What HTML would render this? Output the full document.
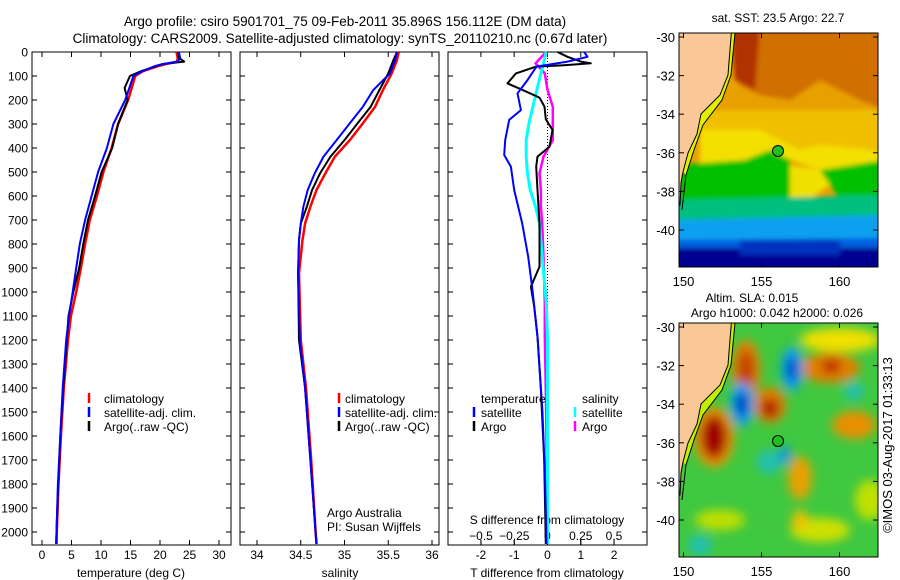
<!DOCTYPE html>
<html><head><meta charset="utf-8"><style>
body{margin:0;background:#fff;width:900px;height:580px;overflow:hidden}
svg{display:block;font-family:"Liberation Sans",sans-serif}
text{fill:#000}
</style></head><body>
<svg id="fig" width="900" height="580" viewBox="0 0 900 580">
<defs>
<filter id="bl" x="-20%" y="-20%" width="140%" height="140%"><feGaussianBlur stdDeviation="5"/></filter>
<filter id="bl2" x="-20%" y="-20%" width="140%" height="140%"><feGaussianBlur stdDeviation="2.5"/></filter>
<clipPath id="c1"><rect x="679" y="33" width="199" height="234"/></clipPath>
<clipPath id="c2"><rect x="679" y="323" width="199" height="234"/></clipPath>
</defs>
<text x="345" y="26" font-size="13.5" text-anchor="middle">Argo profile: csiro 5901701_75 09-Feb-2011 35.896S 156.112E (DM data)</text>
<text x="340" y="43" font-size="13.5" text-anchor="middle">Climatology: CARS2009. Satellite-adjusted climatology: synTS_20110210.nc (0.67d later)</text>
<g id="panels"></g>

<!-- SST map -->
<g>
<text x="778" y="22" font-size="12" text-anchor="middle">sat. SST: 23.5 Argo: 22.7</text>
<g clip-path="url(#c1)">
<rect x="679" y="33" width="199" height="234" fill="#e8a000"/>
<g filter="url(#bl2)">
<polygon points="730,25 885,25 885,110 860,100 820,80 790,100 760,95 740,85" fill="#d07000"/>
<polygon points="730,25 760,25 755,90 735,80" fill="#b03000"/>
<polygon points="700,110 885,110 885,170 830,165 800,160 770,150 740,160 700,165" fill="#f0c000"/>
<polygon points="700,130 760,130 780,140 800,150 820,145 870,150 885,155 885,165 820,170 790,160 760,160 700,170" fill="#f4e000"/>
<polygon points="675,165 745,160 770,150 790,160 790,200 760,210 675,205" fill="#00c000"/>
<polygon points="790,165 820,170 830,185 800,205 790,200" fill="#f0e000"/>
<polygon points="820,170 885,160 885,200 840,200" fill="#00c000"/>
<polygon points="675,200 885,195 885,225 675,225" fill="#00c080"/>
<polygon points="675,220 885,215 885,245 675,245" fill="#10a0f0"/>
<polygon points="675,240 885,238 885,250 675,252" fill="#0060e0"/>
<rect x="675" y="248" width="210" height="25" fill="#000090"/>
<rect x="740" y="240" width="100" height="15" fill="#0030c0"/>
</g>
<polygon points="731,33 729,62 728,75 720,95 701,114 697,134 688,153 683,172 686,175 694,150 703,125 722,100 731,75 735,33" fill="#e0f000"/>
<polygon points="670,25 732,25 729,62 728,75 720,95 701,114 697,134 688,153 683,172 681,183 680,205 670,205" fill="#fac896" stroke="#000" stroke-width="1"/>
<polyline points="735,33 731,75 722,100 703,125 694,150 686,175 682,210" fill="none" stroke="#000" stroke-width="1"/>
</g>
<rect x="679" y="33" width="199" height="234" fill="none" stroke="#000" stroke-width="1"/>
<circle cx="778" cy="151" r="5.5" fill="#20c020" stroke="#000" stroke-width="1"/>
</g>

<!-- SLA map -->
<g>
<text x="752" y="302" font-size="12" text-anchor="middle">Altim. SLA: 0.015</text>
<text x="777" y="317" font-size="12" text-anchor="middle">Argo h1000: 0.042 h2000: 0.026</text>
<g clip-path="url(#c2)">
<rect x="679" y="323" width="199" height="234" fill="#40c840"/>
<g filter="url(#bl)">
<ellipse cx="840" cy="340" rx="40" ry="12" fill="#f0e000"/>
<ellipse cx="746" cy="370" rx="14" ry="30" fill="#e88000"/>
<ellipse cx="746" cy="370" rx="8" ry="20" fill="#c04000"/>
<ellipse cx="770" cy="405" rx="16" ry="18" fill="#e08000"/>
<ellipse cx="770" cy="408" rx="9" ry="10" fill="#b02000"/>
<ellipse cx="830" cy="368" rx="30" ry="15" fill="#e08000"/>
<ellipse cx="831" cy="366" rx="10" ry="8" fill="#c03000"/>
<ellipse cx="854" cy="425" rx="22" ry="14" fill="#e89000"/>
<ellipse cx="800" cy="478" rx="12" ry="22" fill="#e8a000"/>
<ellipse cx="714" cy="437" rx="20" ry="30" fill="#f09000"/>
<ellipse cx="714" cy="437" rx="13" ry="22" fill="#a00000"/>
<ellipse cx="742" cy="404" rx="12" ry="22" fill="#10a0f0"/>
<ellipse cx="742" cy="404" rx="6" ry="12" fill="#0030c0"/>
<ellipse cx="792" cy="369" rx="11" ry="22" fill="#10a0f0"/>
<ellipse cx="792" cy="369" rx="5" ry="12" fill="#0030c0"/>
<ellipse cx="854" cy="391" rx="10" ry="9" fill="#20c0b0"/>
<ellipse cx="769" cy="462" rx="12" ry="12" fill="#20c0b0"/>
<ellipse cx="785" cy="455" rx="5" ry="10" fill="#1090f0"/>
<ellipse cx="720" cy="520" rx="25" ry="10" fill="#c0e000"/>
<ellipse cx="820" cy="530" rx="30" ry="12" fill="#d0e000"/>
<ellipse cx="870" cy="500" rx="15" ry="20" fill="#c0e000"/>
<ellipse cx="800" cy="520" rx="8" ry="10" fill="#f0c000"/>
<ellipse cx="700" cy="545" rx="12" ry="10" fill="#20c0b0"/>
</g>
<polygon points="731,323 729,352 728,365 720,385 701,404 697,424 688,443 683,462 686,465 694,440 703,415 722,390 731,365 735,323" fill="#c0f000"/>
<polygon points="670,315 732,315 729,352 728,365 720,385 701,404 697,424 688,443 683,462 681,473 680,495 670,495" fill="#fac896" stroke="#000" stroke-width="1"/>
<polyline points="735,323 731,365 722,390 703,415 694,440 686,465 682,500" fill="none" stroke="#000" stroke-width="1"/>
</g>
<rect x="679" y="323" width="199" height="234" fill="none" stroke="#000" stroke-width="1"/>
<circle cx="778" cy="441" r="5.5" fill="#20c020" stroke="#000" stroke-width="1"/>
</g>
<g id="maplabels"></g>
<text transform="translate(892,445) rotate(-90)" font-size="13" text-anchor="middle">©IMOS 03-Aug-2017 01:33:13</text>
</svg>
<script>
// ---- data ----
const depthTicks = [0,100,200,300,400,500,600,700,800,900,1000,1100,1200,1300,1400,1500,1600,1700,1800,1900,2000];
const tempTicks = [0,5,10,15,20,25,30];
const salTicks = [34,34.5,35,35.5,36];
const salTickLabels = ["34","34.5","35","35.5","36"];
const tdiffTicks = [-2,-1,0,1,2];
const sdiffTicks = [-0.5,-0.25,0,0.25,0.5];
const tDepth = [0,25,40,50,60,80,100,150,200,300,400,500,600,700,800,900,1000,1100,1200,1400,1600,1800,2000,2050];
const tClim = [22.8,23,22.9,21,19.5,17.1,15.8,15.2,14.6,12.9,11.8,10.4,9.3,8.1,7.3,6.6,5.8,4.9,4.4,3.7,3.2,2.8,2.5,2.45];
const tSat = [23.2,23.4,23,20.5,19,17,15.5,14.8,14.1,12.1,11,9.5,8.4,7.3,6.4,5.8,5.2,4.6,4.1,3.5,3.1,2.7,2.45,2.4];
const tArgo = [23.1,23.2,24.1,20.5,19.2,16.8,14.9,14.0,14.5,12.9,11.9,10.1,9.0,7.8,7.0,6.3,5.3,4.5,4.2,3.6,3.1,2.75,2.45,2.4];
const sDepth = [0,33,89,158,228,297,367,436,506,575,644,714,783,922,1200,1400,1700,2000,2050];
const sClim = [35.62,35.6,35.54,35.44,35.35,35.21,35.06,34.89,34.78,34.68,34.61,34.55,34.52,34.48,34.50,34.56,34.62,34.67,34.68];
const sSat = [35.6,35.58,35.52,35.33,35.21,35.06,34.91,34.76,34.66,34.58,34.53,34.50,34.48,34.47,34.49,34.55,34.61,34.67,34.68];
const sArgo = [35.6,35.56,35.5,35.4,35.3,35.15,35.0,34.84,34.72,34.63,34.57,34.5,34.48,34.47,34.48,34.55,34.61,34.67,34.68];
const dTArgoDepth = [0,20,40,47,55,61,89,131,158,190,228,280,325,394,436,478,575,714,894,978,1061,1186,1400,1700,2050];
const dTArgo = [0.3,0.6,1.0,1.3,0.5,-0.34,-0.95,-1.2,-0.75,-0.24,-0.09,-0.05,0.15,0.06,-0.3,-0.34,-0.3,-0.24,-0.24,-0.5,-0.4,-0.3,-0.2,-0.1,-0.05];
const dTSatDepth = [0,20,40,61,117,172,242,283,367,429,478,575,714,853,992,1186,1500,1800,2050];
const dTSat = [1.1,1.2,0.6,-0.33,-0.6,-0.9,-0.8,-1.15,-1.27,-1.3,-1.1,-1.0,-0.76,-0.58,-0.45,-0.3,-0.15,-0.07,-0.03];
const dSDepth = [0,47,89,158,228,297,367,436,506,575,644,714,853,1040,1186,1500,2050];
const dSSat = [-0.01,-0.03,-0.05,-0.08,-0.11,-0.14,-0.16,-0.16,-0.15,-0.13,-0.09,-0.06,-0.04,-0.01,0,0,0];
const dSArgo = [-0.01,-0.09,-0.02,0,0.04,0.04,0.04,-0.03,-0.06,-0.05,-0.05,-0.04,-0.03,-0.02,-0.02,-0.01,0];
const latTicks = [-30,-32,-34,-36,-38,-40];
const lonTicks = [150,155,160];

const NS = "http://www.w3.org/2000/svg";
const G = document.getElementById('panels');
function mk(tag, attrs, parent){const e=document.createElementNS(NS,tag);for(const k in attrs)e.setAttribute(k,attrs[k]);(parent||G).appendChild(e);return e;}
const TOP=52, BOT=545;
const yD = d => TOP + d*0.24;
const xT = t => 42 + t*5.9;
const xS = s => 257 + (s-34)*87.5;
const xDT = t => 547.5 + t*33.3;
const xDS = s => 547.5 + s*133;
const boxes = [[32,231],[240,439],[448,647]];

function line(xs, ds, fx, color, name, w){
  const pts = xs.map((v,i)=>fx(v).toFixed(1)+','+yD(ds[i]).toFixed(1)).join(' ');
  const p = mk('polyline',{points:pts,fill:'none',stroke:color,'stroke-width':w||2,'stroke-linejoin':'round'});
  
  
}
function text(x,y,s,size,anchor,name){
  const t = mk('text',{x:x,y:y,'font-size':size,'text-anchor':anchor||'start'}); t.textContent=s;
  
  
  return t;
}
boxes.forEach((b,i)=>{
  const r = mk('rect',{x:b[0],y:TOP,width:b[1]-b[0],height:BOT-TOP,fill:'none',stroke:'#000','stroke-width':1});
  
  
  depthTicks.forEach(d=>{
    mk('line',{x1:b[0],x2:b[0]+5,y1:yD(d),y2:yD(d),stroke:'#000'});
    mk('line',{x1:b[1],x2:b[1]-5,y1:yD(d),y2:yD(d),stroke:'#000'});
  });
});
depthTicks.forEach(d=>{ text(28, yD(d)+4.5, String(d), 12, 'end', 'depth-tick-label'); });
function xticks(vals, f, b, labels, ly, name){
  vals.forEach((v,i)=>{
    const x=f(v);
    mk('line',{x1:x,x2:x,y1:TOP,y2:TOP+5,stroke:'#000'});
    mk('line',{x1:x,x2:x,y1:BOT,y2:BOT-5,stroke:'#000'});
    if(labels) text(x, ly, labels[i], 12, 'middle', name);
  });
}
xticks(tempTicks, xT, boxes[0], tempTicks.map(String), 559, 'temperature-tick-label');
xticks(salTicks, xS, boxes[1], salTickLabels, 559, 'salinity-tick-label');
xticks(tdiffTicks, xDT, boxes[2], tdiffTicks.map(String), 559, 'tdiff-tick-label');
sdiffTicks.forEach(v=>{ const x=xDS(v); mk('line',{x1:x,x2:x,y1:BOT,y2:BOT-5,stroke:'#000'}); text(x,540,String(v).replace('-','−'),12,'middle','sdiff-tick-label'); });
text(131,577,'temperature (deg C)',12,'middle','temperature-axis-title');
text(340,577,'salinity',12,'middle','salinity-axis-title');
text(547,577,'T difference from climatology',12,'middle','tdiff-axis-title');
text(547,524,'S difference from climatology',12,'middle','sdiff-axis-title');
const z = mk('line',{x1:547.5,x2:547.5,y1:TOP,y2:BOT,stroke:'#000','stroke-dasharray':'1,2'});
 

line(tClim, tDepth, xT, '#ff0000', 'temp-climatology-line', 2.5);
line(tArgo, tDepth, xT, '#000000', 'temp-argo-line', 2);
line(tSat, tDepth, xT, '#0000ff', 'temp-satellite-line', 2);
line(sClim, sDepth, xS, '#ff0000', 'sal-climatology-line', 2.5);
line(sArgo, sDepth, xS, '#000000', 'sal-argo-line', 2);
line(sSat, sDepth, xS, '#0000ff', 'sal-satellite-line', 2);
line(dSArgo, dSDepth, xDS, '#ff00ff', 'sdiff-argo-line', 2.5);
line(dSSat, dSDepth, xDS, '#00ffff', 'sdiff-satellite-line', 3);
line(dTArgo, dTArgoDepth, xDT, '#000000', 'tdiff-argo-line', 2);
line(dTSat, dTSatDepth, xDT, '#0000ff', 'tdiff-satellite-line', 2);

function legend(x, y, color, label, name, tx){
  const m = mk('line',{x1:x,x2:x,y1:y-10,y2:y,stroke:color,'stroke-width':2.5});
  
  
  text(tx!==undefined?tx:x+7, y, label, 12, 'start', name);
}
[[89,104],[339,345]].forEach(([mx,lx])=>{
  legend(mx, 403, '#ff0000', 'climatology', 'legend-climatology', lx);
  legend(mx, 417, '#0000ff', 'satellite-adj. clim.', 'legend-satellite', lx);
  legend(mx, 431, '#000000', 'Argo(..raw -QC)', 'legend-argo', lx);
});
text(481,403,'temperature',12,'start','legend-temperature-heading');
text(582,403,'salinity',12,'start','legend-salinity-heading');
legend(474,417,'#0000ff','satellite','legend-t-satellite');
legend(474,431,'#000000','Argo','legend-t-argo');
legend(575,417,'#00ffff','satellite','legend-s-satellite');
legend(575,431,'#ff00ff','Argo','legend-s-argo');
text(327,517,'Argo Australia',12,'start','credit-institution');
text(327,531,'PI: Susan Wijffels',12,'start','credit-pi');

const ML = document.getElementById('maplabels');
const mLon = v => 683.5 + (v-150)*15.6;
[[37,267,286],[327,557,576]].forEach(([y0,bot,ly])=>{
  latTicks.forEach(v=>{
    const y = y0 + (-30 - v)*19.3;
    mk('line',{x1:679,x2:684,y1:y,y2:y,stroke:'#000'},ML);
    mk('line',{x1:878,x2:873,y1:y,y2:y,stroke:'#000'},ML);
    const t = mk('text',{x:675,y:y+5,'font-size':13,'text-anchor':'end'},ML); t.textContent=String(v);
     
  });
  lonTicks.forEach(v=>{
    const x = mLon(v);
    mk('line',{x1:x,x2:x,y1:bot,y2:bot-5,stroke:'#000'},ML);
    mk('line',{x1:x,x2:x,y1:y0-4,y2:y0+1,stroke:'#000'},ML);
    const t = mk('text',{x:x,y:ly,'font-size':13,'text-anchor':'middle'},ML); t.textContent=String(v);
     
  });
});
</script>
</body></html>
